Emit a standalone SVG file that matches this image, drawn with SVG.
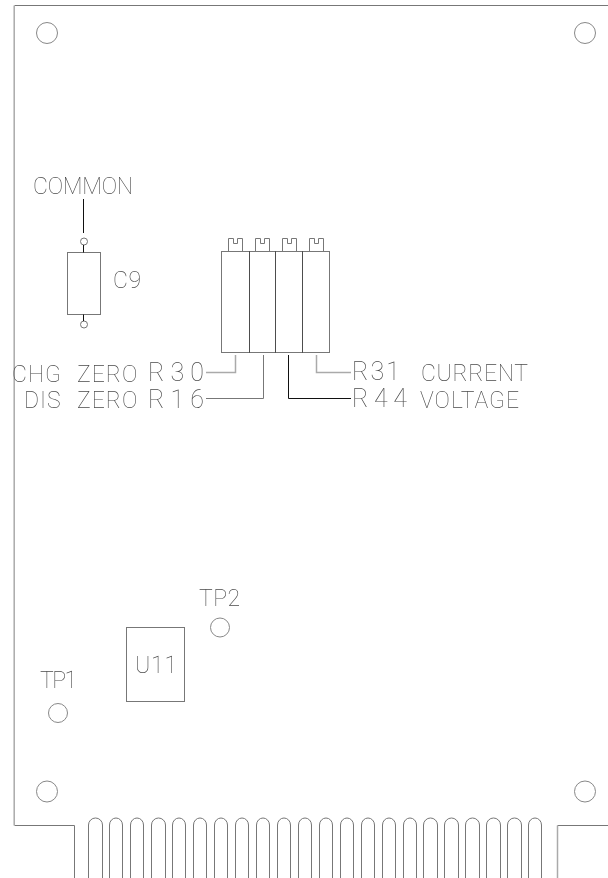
<svg xmlns="http://www.w3.org/2000/svg" width="608" height="878" viewBox="0 0 608 878">
<defs><filter id="g" x="0" y="0" width="1" height="1" filterUnits="objectBoundingBox" color-interpolation-filters="sRGB"><feColorMatrix type="saturate" values="0"/></filter></defs>
<style>
.l{fill:none;stroke:#777;stroke-width:1}
.p{fill:none;stroke:#aaa;stroke-width:1.500}
.c{fill:none;stroke:#888;stroke-width:1}
.k{fill:none;stroke:#111;stroke-width:1}
text{font-family:"Roboto","Liberation Sans",sans-serif;font-weight:100;fill:#4a4a4a}
.s{font-size:23px}
.b{font-size:25px}
</style>
<rect width="608" height="878" fill="#fff"/>
<g id="board">
<path class="l" d="M608 5.500H14.500M14.500 825.500H74.500V878M608 825.500H557.500"/>
<path class="p" d="M14.200 5.500V825.500M557.500 825.500V878"/>
<circle class="c" cx="47" cy="33" r="10.500"/>
<circle class="c" cx="585" cy="33" r="10.500"/>
<circle class="c" cx="47" cy="791.500" r="10.500"/>
<circle class="c" cx="585" cy="791.500" r="10.500"/>
</g>
<g id="fingers">
<path class="l" d="M88.500 878V825A7 7 0 0 1 102.500 825V878"/>
<path class="l" d="M109.500 878V825A6.500 7 0 0 1 122.500 825V878"/>
<path class="l" d="M130.500 878V825A6.500 7 0 0 1 143.500 825V878"/>
<path class="l" d="M151.500 878V825A7 7 0 0 1 165.500 825V878"/>
<path class="l" d="M172.500 878V825A6.500 7 0 0 1 185.500 825V878"/>
<path class="l" d="M193.500 878V825A6.500 7 0 0 1 206.500 825V878"/>
<path class="l" d="M214.500 878V825A6.500 7 0 0 1 227.500 825V878"/>
<path class="l" d="M235.500 878V825A6.500 7 0 0 1 248.500 825V878"/>
<path class="l" d="M256.500 878V825A6.500 7 0 0 1 269.500 825V878"/>
<path class="l" d="M277.500 878V825A6.500 7 0 0 1 290.500 825V878"/>
<path class="l" d="M298.500 878V825A6.500 7 0 0 1 311.500 825V878"/>
<path class="l" d="M319.500 878V825A6.500 7 0 0 1 332.500 825V878"/>
<path class="l" d="M340.500 878V825A6.500 7 0 0 1 353.500 825V878"/>
<path class="l" d="M361.500 878V825A6.500 7 0 0 1 374.500 825V878"/>
<path class="l" d="M382.500 878V825A6.500 7 0 0 1 395.500 825V878"/>
<path class="l" d="M403.500 878V825A6.500 7 0 0 1 416.500 825V878"/>
<path class="l" d="M423.500 878V825A7 7 0 0 1 437.500 825V878"/>
<path class="l" d="M444.500 878V825A7 7 0 0 1 458.500 825V878"/>
<path class="l" d="M465.500 878V825A7 7 0 0 1 479.500 825V878"/>
<path class="l" d="M486.500 878V825A7 7 0 0 1 500.500 825V878"/>
<path class="l" d="M507.500 878V825A7 7 0 0 1 521.500 825V878"/>
<path class="l" d="M528.500 878V825A6.500 7 0 0 1 541.500 825V878"/>
</g>
<g id="C9">
<rect class="l" x="67.500" y="252.500" width="33" height="62"/>
<circle class="l" cx="84" cy="241.500" r="3.500"/>
<circle class="l" cx="84" cy="324.500" r="3.500"/>
<path class="k" d="M83.500 245V252.500M83.500 314.500V321"/>
<text class="s" x="113" y="288" textLength="28" filter="url(#g)">C9</text>
</g>
<g id="COMMON"><text class="s" x="33" y="194" textLength="100" filter="url(#g)">COMMON</text></g>
<g id="trimmers">
<rect class="l" x="221.500" y="251.500" width="108" height="101"/>
<path class="k" d="M249.500 251.500V352.500M275.500 251.500V352.500M302.500 251.500V352.500" stroke-opacity=".75"/>
<path class="l" d="M228.500 251V238.500H233.500V243.500H237.500V238.500H242.500V251"/>
<path class="l" d="M255.500 251V238.500H260.500V243.500H264.500V238.500H269.500V251"/>
<path class="l" d="M282.500 251V238.500H287.500V243.500H291.500V238.500H296.500V251"/>
<path class="l" d="M309.500 251V238.500H314.500V243.500H318.500V238.500H323.500V251"/>
</g>
<g id="connectors">
<path class="k" d="M83.500 199V233"/>
<path class="p" d="M235.500 355V372.500H206"/>
<path class="l" d="M263.500 355V398.500H206"/>
<path class="k" d="M288.500 355V398.500H351"/>
<path class="p" d="M316.500 355V372.500H351"/>
</g>
<g id="R30"><text class="s" x="12" y="382" letter-spacing="1" filter="url(#g)">CHG <tspan x="77">ZERO</tspan></text><text class="b" x="148" y="381" textLength="56" filter="url(#g)">R30</text></g>
<g id="R16"><text class="s" x="24" y="408" letter-spacing="1" filter="url(#g)">DIS <tspan x="77">ZERO</tspan></text><text class="b" x="148" y="408" textLength="56" filter="url(#g)">R16</text></g>
<g id="R31"><text class="b" x="352" y="380" textLength="48" filter="url(#g)">R31</text><text class="s" x="421" y="381" textLength="107" filter="url(#g)">CURRENT</text></g>
<g id="R44"><text class="b" x="352" y="407" textLength="55" filter="url(#g)">R44</text><text class="s" x="420" y="408" textLength="99" filter="url(#g)">VOLTAGE</text></g>
<g id="U11">
<rect class="l" x="126.500" y="627.500" width="58" height="74"/>
<text class="s" x="135" y="673" textLength="42" filter="url(#g)">U11</text>
</g>
<g id="TP1"><circle class="c" cx="58" cy="713" r="9.500"/><text class="s" x="40" y="688" textLength="37" filter="url(#g)">TP1</text></g>
<g id="TP2"><circle class="c" cx="220" cy="627.500" r="9.500"/><text class="s" x="199" y="606" textLength="41" filter="url(#g)">TP2</text></g>
</svg>
